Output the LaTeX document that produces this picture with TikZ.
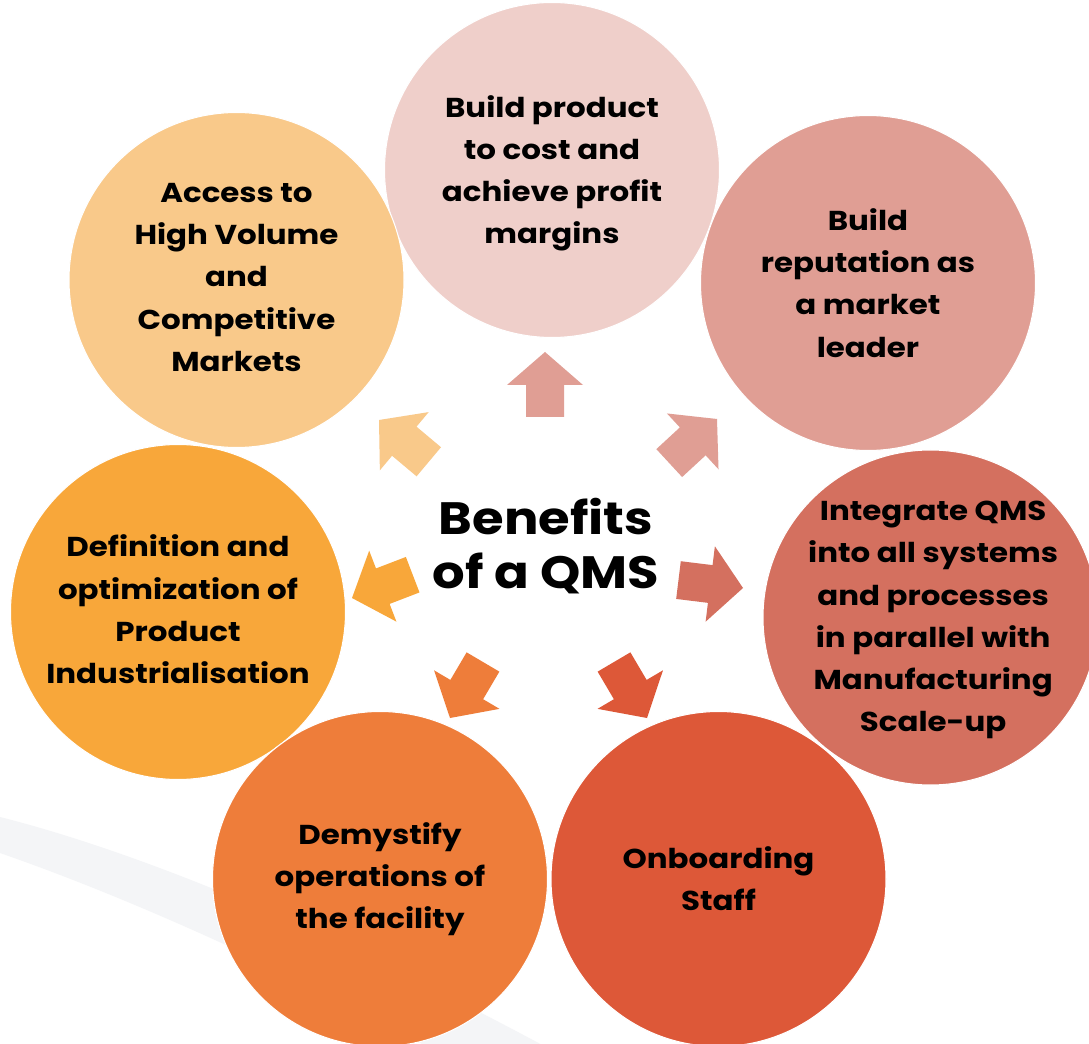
\documentclass[tikz,border=0pt]{standalone}
\usepackage{fontspec}
\setmainfont{Poppins}[FakeStretch=1.13]
\definecolor{cTL}{HTML}{F9C98A}
\definecolor{cTop}{HTML}{EFCFCA}
\definecolor{cTR}{HTML}{E09E94}
\definecolor{cL}{HTML}{F8A73A}
\definecolor{cR}{HTML}{D4705F}
\definecolor{cBL}{HTML}{EE7D3A}
\definecolor{cBR}{HTML}{DD5838}
\definecolor{swoosh}{HTML}{F4F5F7}
\newcommand\qmsarrow[3]{\fill[#3, shift={(#1)}, rotate=#2] (0,0) -- (-33,38) -- (-33,19) -- (-65,19) -- (-65,-19) -- (-33,-19) -- (-33,-38) -- cycle;}
\begin{document}
\begin{tikzpicture}[x=0.75pt,y=-0.75pt,
  bubble/.style={circle, minimum size=251.25pt, inner sep=0pt, draw=white, line width=0.8pt},
  btext/.style={align=center, text=black, font=\bfseries\fontsize{20.5}{31.7}\selectfont, inner sep=0pt},
  title/.style={align=center, text=black, font=\bfseries\fontsize{34}{41}\selectfont, inner sep=0pt}]
\clip (0,0) rectangle (1089,1044);
\fill[white] (0,0) rectangle (1089,1044);
% faint swoosh
\fill[swoosh] (0,817) .. controls (150,855) and (350,940) .. (570,1060) -- (450,1060)
  .. controls (330,990) and (150,905) .. (0,853) -- cycle;
% circles
\node[bubble, fill=cTop] (c1) at (552,170) {};
\node[bubble, fill=cTL] (c2) at (236.5,280) {};
\node[bubble, fill=cTR] (c3) at (868,283) {};
\node[bubble, fill=cL] (c4) at (178,612) {};
\node[bubble, fill=cR] (c5) at (930.5,617.5) {};
\node[bubble, fill=cBL] (c6) at (380,879) {};
\node[bubble, fill=cBR] (c7) at (718.5,879) {};
% texts
\node[btext] (t1) at ([yshift=-2.5pt]c1.center) {Build product\\to cost and\\achieve profit\\margins};
\node[btext] (t2) at ([yshift=2pt]c2.center) {Access to\\High Volume\\and\\Competitive\\Markets};
\node[btext] (t3) at (c3.center) {Build\\reputation as\\a market\\leader};
\node[btext] (t4) at ([yshift=2pt]c4.center) {Definition and\\optimization of\\Product\\Industrialisation};
\node[btext] (t5) at ([xshift=2pt,yshift=-2pt]c5.center) {Integrate QMS\\into all systems\\and processes\\in parallel with\\Manufacturing\\Scale-up};
\node[btext] (t6) at (c6.center) {Demystify\\operations of\\the facility};
\node[btext] (t7) at (c7.center) {Onboarding\\Staff};
% centre title
\node[title] (ctr) at (546,546) {Benefits\\of a QMS};
% block arrows
\qmsarrow{545,352}{90}{cTR}
\qmsarrow{717,419}{42.7}{cTR}
\qmsarrow{743,588}{-7}{cR}
\qmsarrow{647,718}{-59.5}{cBR}
\qmsarrow{450,718}{-120.5}{cBL}
\qmsarrow{352,598}{-159}{cL}
\qmsarrow{379,420}{140}{cTL}
\end{tikzpicture}
\end{document}
